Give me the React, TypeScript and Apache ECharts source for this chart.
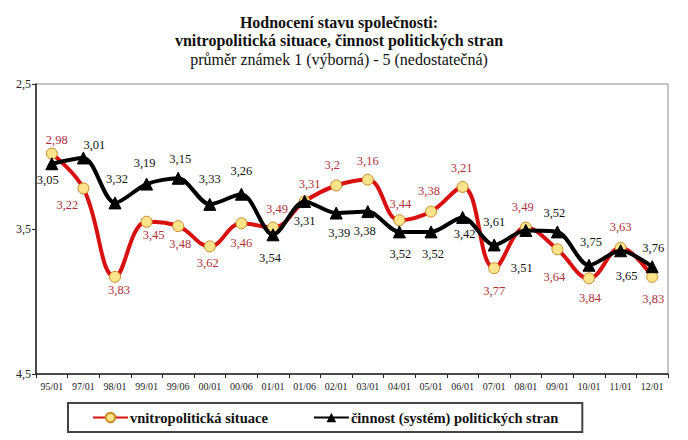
import React, { useEffect, useRef } from "react";
import * as echarts from "echarts";

const categories = ["95/01", "97/01", "98/01", "99/01", "99/06", "00/01", "00/06", "01/01", "01/06", "02/01", "03/01", "04/01", "05/01", "06/01", "07/01", "08/01", "09/01", "10/01", "11/01", "12/01"];
const vnitropolitickaSituace = [2.98, 3.22, 3.83, 3.45, 3.48, 3.62, 3.46, 3.49, 3.31, 3.2, 3.16, 3.44, 3.38, 3.21, 3.77, 3.49, 3.64, 3.84, 3.63, 3.83];
const cinnostStran = [3.05, 3.01, 3.32, 3.19, 3.15, 3.33, 3.26, 3.54, 3.31, 3.39, 3.38, 3.52, 3.52, 3.42, 3.61, 3.51, 3.52, 3.75, 3.65, 3.76];
const yTicks = [2.5, 3.5, 4.5];
const seriesNames = ["vnitropolitická situace", "činnost (systém) politických stran"];
const titleLines = ["Hodnocení stavu společnosti:", "vnitropolitická situace, činnost politických stran", "průměr známek 1 (výborná) - 5 (nedostatečná)"];

// label placement (style) offsets relative to each point
const redLabelOffsets = [[5, -14], [-16, 17], [4, 13], [7, 13], [2, 18], [-2, 17], [0, 20], [4, -19], [5, -17], [-4, -21], [0, -19], [1, -16], [-2, -21], [-1, -19], [0, 23], [-3, -21], [-3, 28], [1, 20], [0, -21], [1, 22]];
const blackLabelOffsets = [[-4, 16], [11, -13], [2, -24], [-2, -21], [2, -19], [0, -25], [0, -23], [-3, 23], [0, 20], [3, 20], [-3, 19], [1, 22], [2, 22], [2, 17], [0, -23], [-4, 38], [-3, -19], [2, -23], [6, 25], [1, -19]];

const FONT = "Liberation Serif";
const fmt = (v: number) => String(v).replace(".", ",");

export default function App() {
  const ref = useRef<HTMLDivElement>(null);
  useEffect(() => {
    document.body.style.margin = "0";
    const chart = echarts.init(ref.current!, undefined, { renderer: "svg" });
    const redData = vnitropolitickaSituace.map((v, i) => ({
      value: v,
      label: { offset: redLabelOffsets[i] },
    }));
    const blackData = cinnostStran.map((v, i) => ({
      value: v,
      label: { offset: blackLabelOffsets[i] },
    }));
    chart.setOption({
      animation: false,
      backgroundColor: "#ffffff",
      textStyle: { fontFamily: FONT },
      title: [
        {
          text: titleLines[0] + "\n" + titleLines[1],
          left: 339,
          top: 13,
          textAlign: "center",
          padding: 0,
          textStyle: { fontFamily: FONT, fontSize: 16, fontWeight: "bold", lineHeight: 18, color: "#111" },
        },
        {
          text: titleLines[2],
          left: 339,
          top: 50,
          textAlign: "center",
          padding: 0,
          textStyle: { fontFamily: FONT, fontSize: 16, fontWeight: "normal", lineHeight: 18, color: "#111" },
        },
      ],
      grid: {
        left: 36,
        right: 20,
        top: 84,
        bottom: 66,
        show: true,
        borderColor: "#8a8a8a",
        borderWidth: 1,
        backgroundColor: "transparent",
      },
      legend: {
        left: 68,
        top: 403,
        padding: [7, 24, 7, 24],
        itemWidth: 35,
        itemHeight: 12,
        itemGap: 45,
        borderColor: "#444",
        borderWidth: 2,
        backgroundColor: "#fff",
        textStyle: { fontFamily: FONT, fontSize: 14.5, fontWeight: "bold", color: "#111", padding: [0, 0, 0, -3] },
        data: seriesNames,
      },
      xAxis: {
        type: "category",
        data: categories,
        boundaryGap: true,
        axisLine: { onZero: false, lineStyle: { color: "#222", width: 1.5 } },
        axisTick: { show: true, alignWithLabel: false, length: 4, lineStyle: { color: "#222" } },
        axisLabel: { interval: 0, fontFamily: FONT, fontSize: 10, color: "#222", margin: 7 },
        splitLine: { show: false },
      },
      yAxis: {
        type: "value",
        inverse: true,
        min: yTicks[0],
        max: yTicks[yTicks.length - 1],
        interval: yTicks[1] - yTicks[0],
        axisLine: { show: true, lineStyle: { color: "#222", width: 1.5 } },
        axisTick: { show: true, length: 4, lineStyle: { color: "#222" } },
        axisLabel: { formatter: (v: number) => fmt(v), fontFamily: FONT, fontSize: 12, color: "#222", margin: 5 },
        splitLine: { show: false },
      },
      series: [
        {
          name: seriesNames[0],
          type: "line",
          data: redData,
          smooth: 0.4,
          symbol: "circle",
          symbolSize: 11,
          lineStyle: { color: "#d81010", width: 4 },
          itemStyle: { color: "#fde48a", borderColor: "#c88a2a", borderWidth: 1 },
          label: {
            show: true,
            position: "inside",
            formatter: (p: any) => fmt(p.value),
            fontFamily: FONT,
            fontSize: 12.5,
            color: "#b0303c",
          },
          z: 2,
        },
        {
          name: seriesNames[1],
          type: "line",
          data: blackData,
          smooth: 0.3,
          symbol: "triangle",
          symbolSize: 12,
          lineStyle: { color: "#000", width: 4 },
          itemStyle: { color: "#000", borderColor: "#000" },
          label: {
            show: true,
            position: "inside",
            formatter: (p: any) => fmt(p.value),
            fontFamily: FONT,
            fontSize: 12.5,
            color: "#111",
          },
          z: 3,
        },
      ],
    });
    return () => chart.dispose();
  }, []);
  return <div ref={ref} style={{ width: 688, height: 440 }} />;
}
